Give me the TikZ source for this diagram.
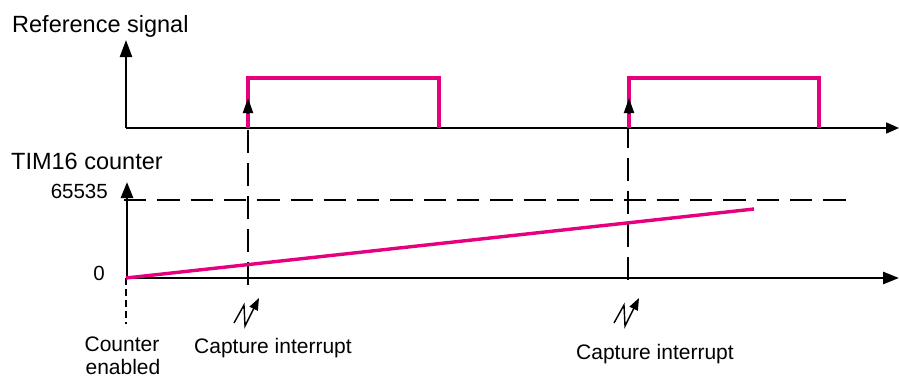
\documentclass[tikz,border=0pt]{standalone}
\usepackage{fontspec}
\setmainfont{Liberation Sans}
\usetikzlibrary{arrows.meta}
\definecolor{pulse}{RGB}{230,0,126}

\begin{document}
\begin{tikzpicture}[x=1pt,y=-1pt,
  axisline/.style={line width=2.7pt,-{Triangle[length=16pt,width=12pt]}},
  thinaxis/.style={line width=1.9pt,-{Triangle[length=13pt,width=11pt]}},
  tallaxis/.style={line width=2.3pt,-{Triangle[length=17pt,width=12pt]}},
  signal/.style={pulse,line width=3.4pt,line join=miter},
  marker/.style={line width=2.9pt,dash pattern=on 23pt off 10pt},
  limitline/.style={line width=2.9pt,dash pattern=on 22.3pt off 11pt},
  startline/.style={line width=2.4pt,dash pattern=on 7pt off 4pt},
  tipup/.style={line width=2pt,-{Triangle[length=15pt,width=10pt]}},
  flash/.style={line width=1.4pt,line join=miter,-{Triangle[length=12pt,width=9pt]}},
  title/.style={font=\fontsize{23.5}{28}\selectfont,anchor=base west,inner sep=0pt},
  lbl/.style={font=\fontsize{21}{25}\selectfont,inner sep=0pt},
  num/.style={font=\fontsize{20.5}{24}\selectfont,anchor=base east,inner sep=0pt},
]
\useasboundingbox (0,0) rectangle (899,378);

% ---- reference signal axes
\coordinate (o1) at (126,128);
\coordinate (y1) at (126,40);
\coordinate (x1) at (899,128);
\draw[tallaxis] (o1) -- (y1);
\draw[thinaxis] (o1) -- (x1);

% ---- counter axes
\coordinate (o2) at (127,278);
\coordinate (y2) at (127,182);
\coordinate (x2) at (899,278);
\coordinate (o2l) at (126,278);
\draw[axisline] (o2) -- (y2);
\draw[axisline] (o2l) -- (x2);

% ---- 65535 limit
\coordinate (m0) at (124,200);
\coordinate (m1) at (846,200);
\draw[limitline] (m0) -- (m1);

% ---- capture markers
\coordinate (c1b) at (248,285);
\coordinate (c1t) at (248,128);
\coordinate (c2b) at (628,280);
\coordinate (c2t) at (628,128);
\draw[marker] (c1b) -- (c1t);
\draw[marker] (c2b) -- (c2t);

% ---- counter enabled marker
\coordinate (e0) at (126,278);
\coordinate (e1) at (126,324);
\draw[startline] (e0) -- (e1);

% ---- reference pulses
\coordinate (p1a) at (248,128);
\coordinate (p1b) at (248,78);
\coordinate (p1c) at (439,78);
\coordinate (p1d) at (439,128);
\coordinate (p2a) at (629,128);
\coordinate (p2b) at (629,78);
\coordinate (p2c) at (819,78);
\coordinate (p2d) at (819,128);
\draw[signal] (p1a) -- (p1b) -- (p1c) -- (p1d);
\draw[signal] (p2a) -- (p2b) -- (p2c) -- (p2d);

% ---- counter ramp
\coordinate (r0) at (126,278);
\coordinate (r1) at (754,209);
\draw[signal] (r0) -- (r1);

% ---- capture arrowheads on the rising edges
\coordinate (a1b) at (248,113);
\coordinate (a1t) at (248,98);
\coordinate (a2b) at (629,113);
\coordinate (a2t) at (629,98);
\draw[tipup] (a1b) -- (a1t);
\draw[tipup] (a2b) -- (a2t);

% ---- interrupt symbols
\coordinate (f1a) at (234,323);
\coordinate (f1b) at (244,305);
\coordinate (f1c) at (245,326);
\coordinate (f1d) at (259,298);
\coordinate (f2a) at (614,323);
\coordinate (f2b) at (624,305);
\coordinate (f2c) at (625,326);
\coordinate (f2d) at (639,298);
\draw[flash] (f1a) -- (f1b) -- (f1c) -- (f1d);
\draw[flash] (f2a) -- (f2b) -- (f2c) -- (f2d);

% ---- labels
\node[title] (tref) at (12,32) {Reference signal};
\node[title] (tcnt) at (11,169) {TIM16 counter};
\node[num] (tmax) at (108,198) {65535};
\node[num] (tzero) at (105,280) {0};
\node[lbl,anchor=base] (ten1) at (122,351) {Counter};
\node[lbl,anchor=base] (ten2) at (123,374) {enabled};
\node[lbl,anchor=base west] (tcap1) at (194,353) {Capture interrupt};
\node[lbl,anchor=base west] (tcap2) at (576,359) {Capture interrupt};
\end{tikzpicture}
\end{document}
